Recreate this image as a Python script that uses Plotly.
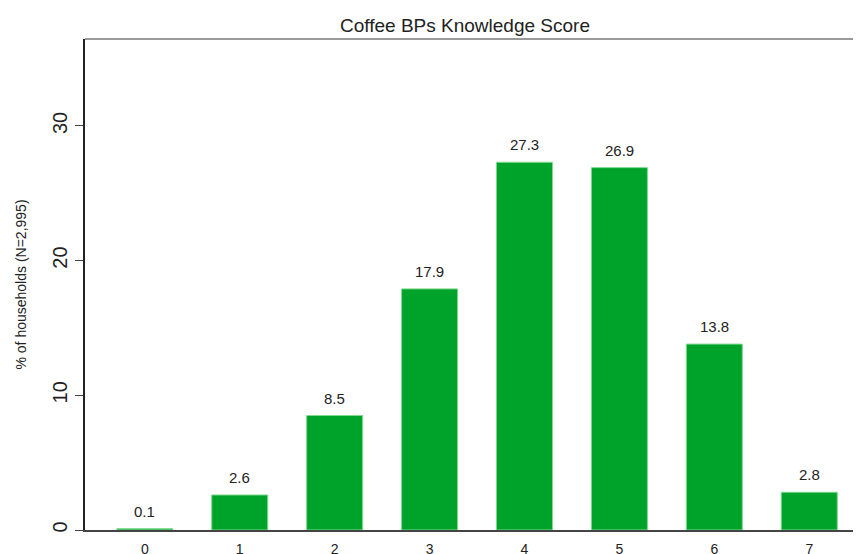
import plotly.graph_objects as go

scores = [0, 1, 2, 3, 4, 5, 6, 7]
pct_households = [0.1, 2.6, 8.5, 17.9, 27.3, 26.9, 13.8, 2.8]
y_ticks = [0, 10, 20, 30]

BAR_COLOR = "#00a32a"
TEXT_COLOR = "#222222"
FONT = "Liberation Sans, Arial, sans-serif"

# page body adds an 8px offset, margins below compensate for it
W, H = 861, 554
ML, MR, MT, MB = 77, 8, 31, 32
PLOT_W = W - ML - MR

fig = go.Figure()
fig.add_trace(go.Bar(
    x=scores,
    y=pct_households,
    width=0.59,
    marker=dict(color=BAR_COLOR, line=dict(color="#7fd98f", width=1)),
    showlegend=False,
))

# value labels above bars, with a bit more gap than textposition="outside"
for s, v in zip(scores, pct_households):
    fig.add_annotation(x=s, y=v, text=f"{v:.1f}", showarrow=False,
                       yanchor="bottom", yshift=7,
                       font=dict(family=FONT, size=15, color=TEXT_COLOR))

# y axis title placed manually (Stata-like spacing)
fig.add_annotation(xref="paper", yref="paper", x=-65 / PLOT_W, y=0.5,
                   text="% of households (N=2,995)", textangle=-90, showarrow=False,
                   xanchor="center", yanchor="middle",
                   font=dict(family=FONT, size=14, color=TEXT_COLOR))

# top frame line
fig.add_shape(type="line", xref="paper", yref="paper", x0=0, x1=1, y0=1, y1=1,
              line=dict(color="#777777", width=1.5))

fig.update_layout(
    template="none",
    width=W,
    height=H,
    margin=dict(l=ML, r=MR, t=MT, b=MB),
    plot_bgcolor="white",
    paper_bgcolor="white",
    font=dict(family=FONT, color=TEXT_COLOR),
    title=dict(
        text="Coffee BPs Knowledge Score",
        x=457 / W, xanchor="center", y=1 - 17 / H, yanchor="middle",
        font=dict(family=FONT, size=19, color=TEXT_COLOR),
    ),
    xaxis=dict(
        range=[-0.63, 7.545],
        automargin=False,
        tickmode="array", tickvals=scores, ticktext=[str(s) for s in scores],
        tickfont=dict(family=FONT, size=14, color=TEXT_COLOR),
        showgrid=False, zeroline=False,
        showline=True, linecolor="#444444", linewidth=1.5,
        ticks="outside", ticklen=5, tickcolor="rgba(0,0,0,0)",
    ),
    yaxis=dict(
        range=[0, 36.45],
        automargin=False,
        tickmode="array", tickvals=y_ticks, ticktext=[str(t) for t in y_ticks],
        tickangle=-90,
        tickfont=dict(family=FONT, size=20, color=TEXT_COLOR),
        showgrid=False, zeroline=False,
        showline=True, linecolor="#222222", linewidth=1.5,
        ticks="outside", ticklen=8, tickcolor="#444444",
    ),
    bargap=0.4,
)

fig.write_html("out.html")
